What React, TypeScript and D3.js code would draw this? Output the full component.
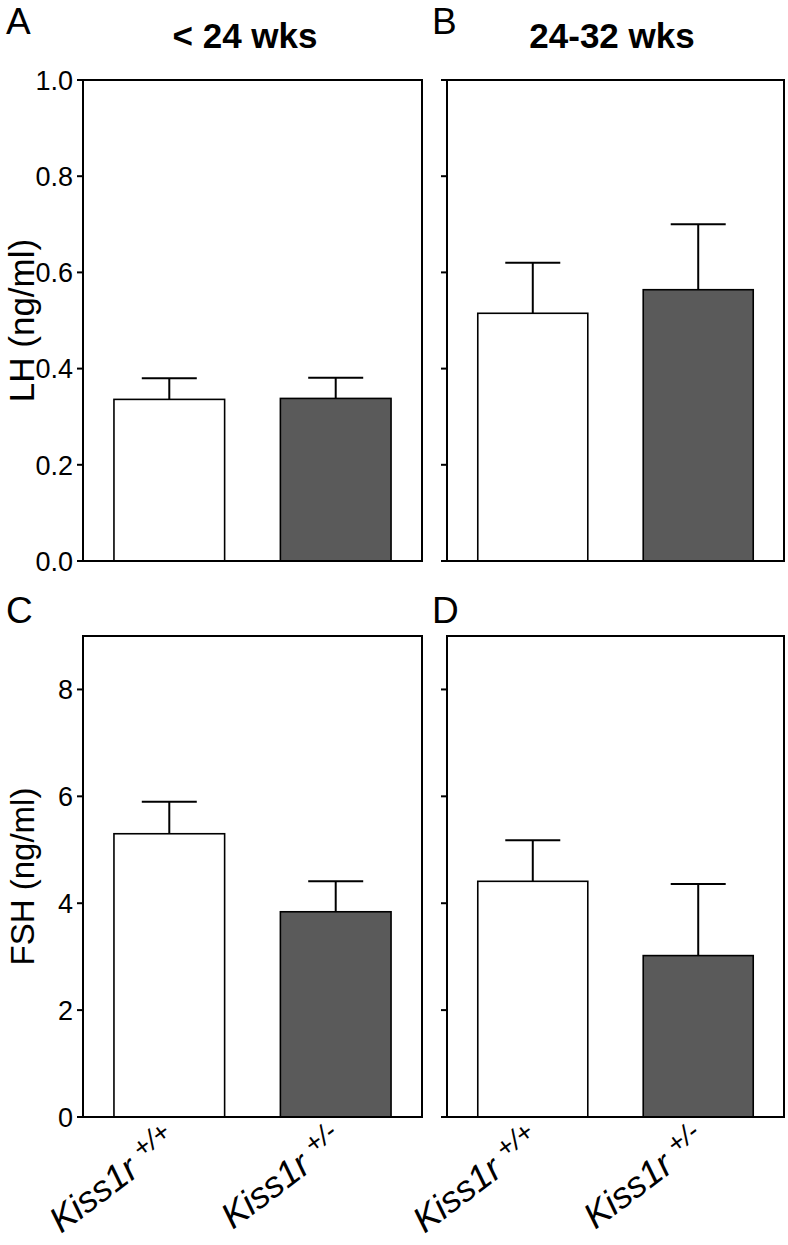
import React from "react";
import * as d3 from "d3";

const groups = ["Kiss1r +/+", "Kiss1r +/-"];
const genotypeSup = ["+/+", "+/-"];
const ageTitles = ["< 24 wks", "24-32 wks"];
const panelLetters = ["A", "B", "C", "D"];

// LH (ng/ml): mean and SEM
const lhYoungMean = [0.336, 0.338];
const lhYoungSem = [0.044, 0.043];
const lhOldMean = [0.515, 0.564];
const lhOldSem = [0.105, 0.136];

// FSH (ng/ml): mean and SEM
const fshYoungMean = [5.3, 3.84];
const fshYoungSem = [0.6, 0.57];
const fshOldMean = [4.41, 3.02];
const fshOldSem = [0.77, 1.34];

const lhTicks = [0, 0.2, 0.4, 0.6, 0.8, 1.0];
const fshTicks = [0, 2, 4, 6, 8];

const barFills = ["#ffffff", "#5a5a5a"];
const FONT = "'Liberation Sans', Arial, Helvetica, sans-serif";

type PanelProps = {
  x0: number; x1: number; y0: number; y1: number;
  domainMax: number; ticks: number[]; fmt: (v: number) => string;
  means: number[]; sems: number[]; showLabels: boolean; letter: string;
  letterX: number; letterY: number; showX: boolean;
};

function Panel(p: PanelProps) {
  const x = d3.scaleBand<string>().domain(groups).range([p.x0, p.x1]).paddingInner(0.335).paddingOuter(0.186);
  const y = d3.scaleLinear().domain([0, p.domainMax]).range([p.y1, p.y0]);
  const bw = x.bandwidth();
  return (
    <g>
      <text x={p.letterX} y={p.letterY} fontSize={37} fontFamily={FONT}>{p.letter}</text>
      {groups.map((g, i) => {
        const cx = (x(g) as number) + bw / 2;
        const top = y(p.means[i]);
        const errTop = y(p.means[i] + p.sems[i]);
        return (
          <g key={g}>
            <line x1={cx} x2={cx} y1={top} y2={errTop} stroke="#000" strokeWidth={2} />
            <line x1={cx - 27.5} x2={cx + 27.5} y1={errTop} y2={errTop} stroke="#000" strokeWidth={2} />
            <rect x={x(g)} y={top} width={bw} height={p.y1 - top} fill={barFills[i]} stroke="#000" strokeWidth={1.6} />
          </g>
        );
      })}
      <rect x={p.x0} y={p.y0} width={p.x1 - p.x0} height={p.y1 - p.y0} fill="none" stroke="#000" strokeWidth={2} />
      {p.ticks.map((t) => (
        <g key={t}>
          <line x1={p.x0 - 6} x2={p.x0} y1={y(t)} y2={y(t)} stroke="#000" strokeWidth={2} />
          {p.showLabels && (
            <text x={p.x0 - 10} y={y(t)} dy="0.36em" textAnchor="end" fontSize={27} fontFamily={FONT}>{p.fmt(t)}</text>
          )}
        </g>
      ))}
      {p.showX && groups.map((g, i) => {
        const cx = (x(g) as number) + bw / 2;
        return (
          <text key={g} transform={`translate(${cx + 10},${p.y1 + 28}) rotate(-37)`} textAnchor="end" fontSize={36} fontFamily={FONT} fontStyle="italic">
            Kiss1r<tspan fontSize={27} dx={9} dy={-12}>{genotypeSup[i]}</tspan>
          </text>
        );
      })}
    </g>
  );
}

export default function App() {
  const L = [83, 422];
  const R = [447, 784];
  const top1 = [80, 561];
  const top2 = [636, 1117];
  const f1 = d3.format(".1f");
  const f0 = d3.format("d");
  return (
    <svg width={788} height={1245} style={{ position: "absolute", left: 0, top: 0, background: "#fff" }}>
      <text x={245} y={48} textAnchor="middle" fontSize={35} fontWeight="bold" fontFamily={FONT}>{ageTitles[0]}</text>
      <text x={612} y={48} textAnchor="middle" fontSize={35} fontWeight="bold" fontFamily={FONT}>{ageTitles[1]}</text>
      <text transform={`translate(34,${(top1[0] + top1[1]) / 2}) rotate(-90)`} textAnchor="middle" fontSize={35} fontFamily={FONT}>LH (ng/ml)</text>
      <text transform={`translate(34,${(top2[0] + top2[1]) / 2}) rotate(-90)`} textAnchor="middle" fontSize={33} fontFamily={FONT}>FSH (ng/ml)</text>
      <Panel x0={L[0]} x1={L[1]} y0={top1[0]} y1={top1[1]} domainMax={1.0} ticks={lhTicks} fmt={f1} means={lhYoungMean} sems={lhYoungSem} showLabels={true} letter={panelLetters[0]} letterX={6} letterY={34} showX={false} />
      <Panel x0={R[0]} x1={R[1]} y0={top1[0]} y1={top1[1]} domainMax={1.0} ticks={lhTicks} fmt={f1} means={lhOldMean} sems={lhOldSem} showLabels={false} letter={panelLetters[1]} letterX={432} letterY={34} showX={false} />
      <Panel x0={L[0]} x1={L[1]} y0={top2[0]} y1={top2[1]} domainMax={9} ticks={fshTicks} fmt={f0} means={fshYoungMean} sems={fshYoungSem} showLabels={true} letter={panelLetters[2]} letterX={6} letterY={623} showX={true} />
      <Panel x0={R[0]} x1={R[1]} y0={top2[0]} y1={top2[1]} domainMax={9} ticks={fshTicks} fmt={f0} means={fshOldMean} sems={fshOldSem} showLabels={false} letter={panelLetters[3]} letterX={432} letterY={623} showX={true} />
    </svg>
  );
}
